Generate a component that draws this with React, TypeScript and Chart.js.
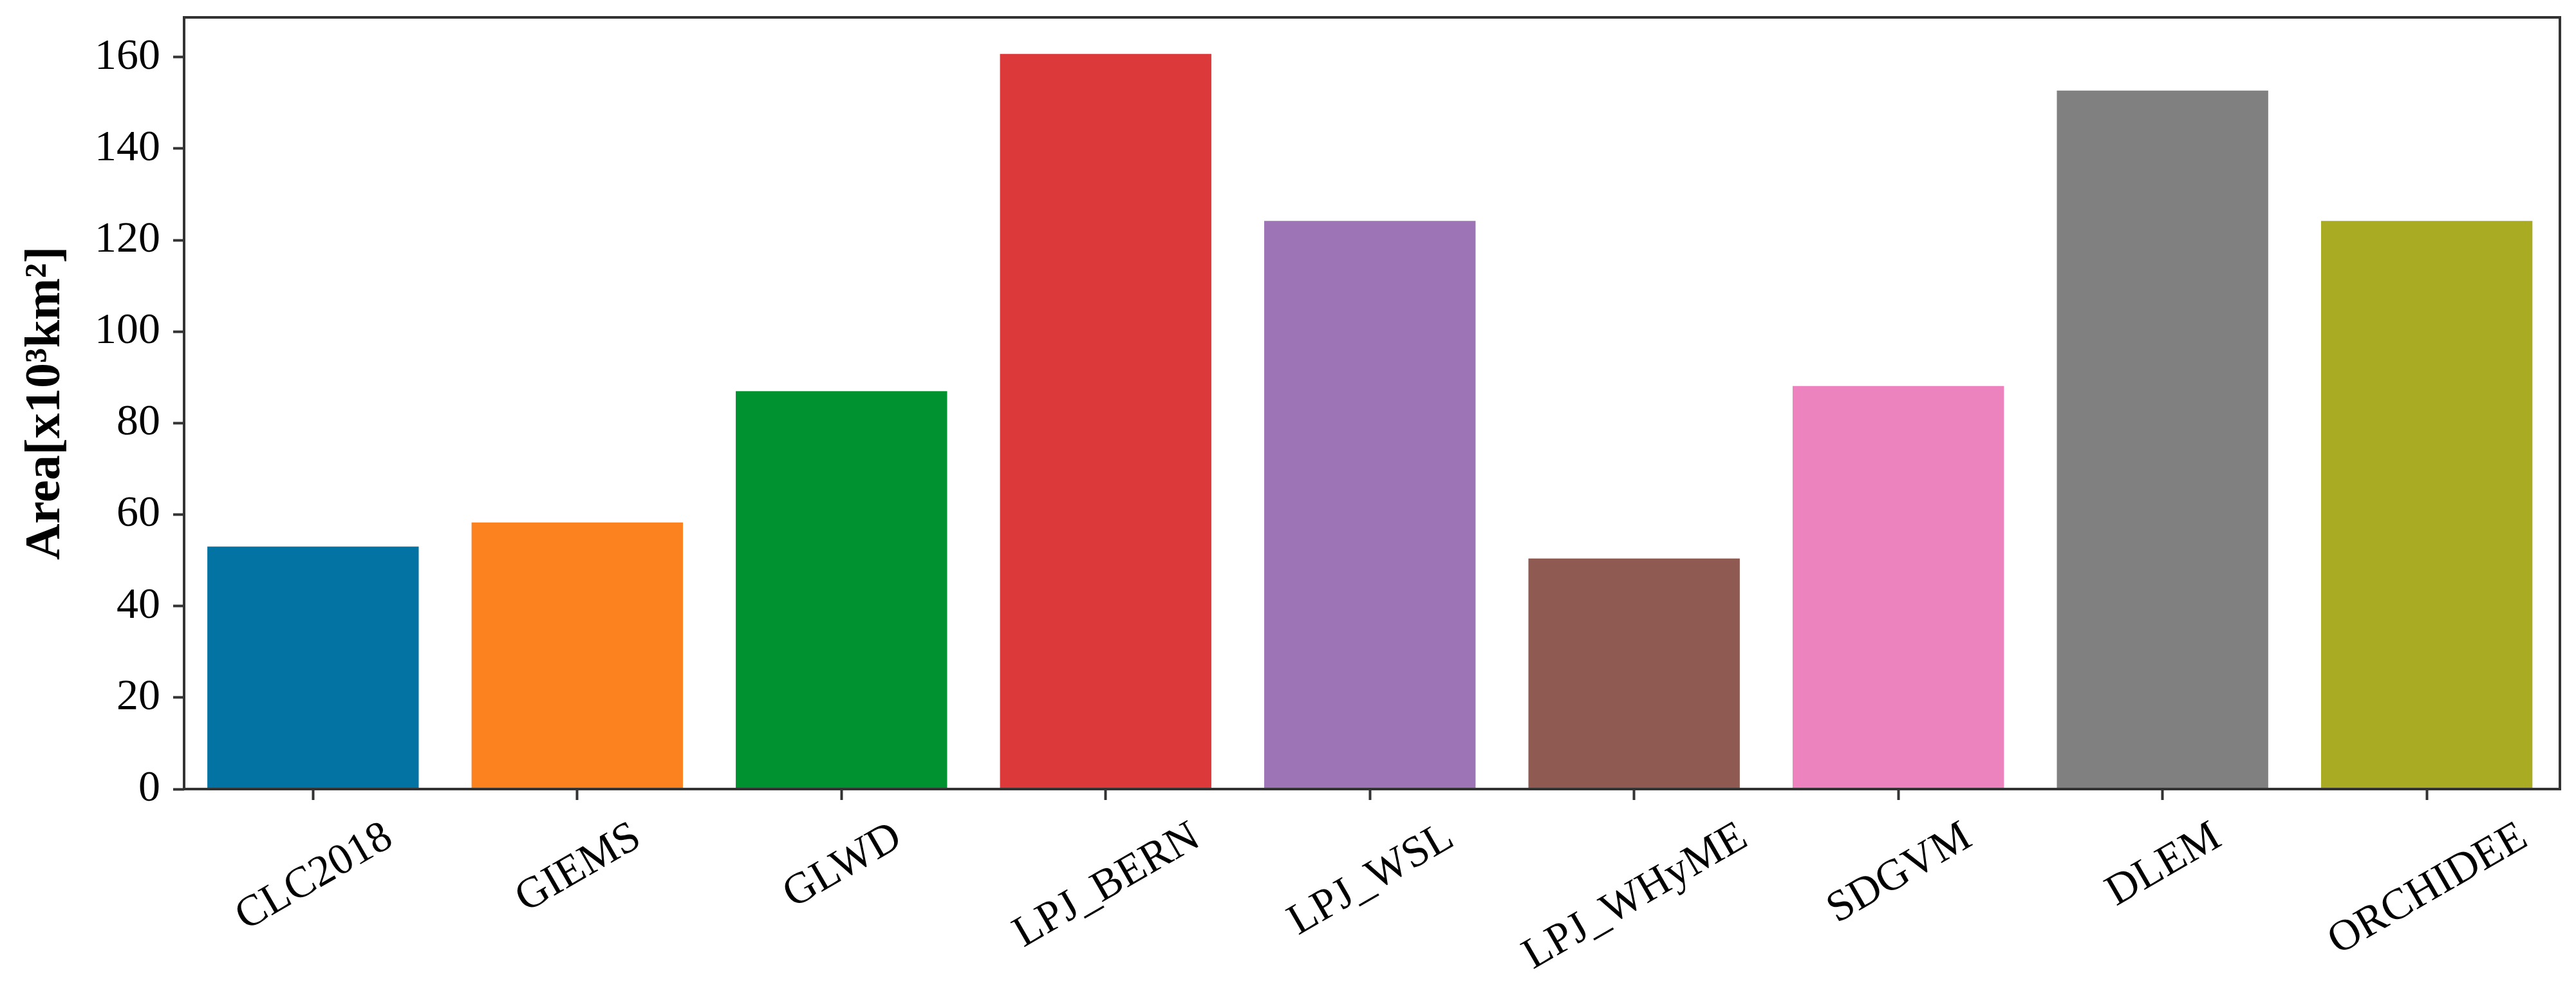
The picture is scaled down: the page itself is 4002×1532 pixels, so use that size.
import React, { useEffect, useRef } from 'react';
import { Chart, registerables } from 'chart.js';

Chart.register(...registerables);

const categories = ['CLC2018', 'GIEMS', 'GLWD', 'LPJ_BERN', 'LPJ_WSL', 'LPJ_WHyME', 'SDGVM', 'DLEM', 'ORCHIDEE'];
const areaValues = [53.0, 58.3, 87.0, 160.7, 124.2, 50.4, 88.1, 152.7, 124.2];
const barColors = ['#0273A3', '#FC8220', '#009130', '#DC3A3A', '#9D74B5', '#8E5A52', '#EC82BE', '#808080', '#A9AC23'];
const yTickValues = [0, 20, 40, 60, 80, 100, 120, 140, 160];
const yTitle = 'Area[x10³km²]';

const W = 4002;
const H = 1532;
const FONT = "'Liberation Serif', 'Times New Roman', serif";
const TICK_SIZE = 68;
const FRAME = '#333333';

const framePlugin = {
  id: 'frameAndLabels',
  afterDraw(chart: any) {
    const { ctx, chartArea: a } = chart;
    ctx.save();
    ctx.strokeStyle = FRAME;
    ctx.lineWidth = 4;
    ctx.strokeRect(a.left, a.top, a.right - a.left, a.bottom - a.top);

    const xs = chart.scales.x;
    ctx.font = `${TICK_SIZE}px ${FONT}`;
    ctx.fillStyle = '#000';
    ctx.textAlign = 'center';
    ctx.textBaseline = 'alphabetic';
    const ang = (30 * Math.PI) / 180;
    const capH = 0.66 * TICK_SIZE;
    categories.forEach((lab, i) => {
      const x = xs.getPixelForValue(i);
      const w = ctx.measureText(lab).width;
      const bboxH = w * Math.sin(ang) + capH * Math.cos(ang);
      const cy = a.bottom + 47 + bboxH / 2;
      ctx.save();
      ctx.translate(x, cy);
      ctx.rotate(-ang);
      ctx.fillText(lab, 0, capH / 2);
      ctx.restore();
    });
    ctx.restore();
  },
};

export default function App() {
  const ref = useRef<HTMLCanvasElement | null>(null);

  useEffect(() => {
    if (!ref.current) return;
    const chart = new Chart(ref.current, {
      type: 'bar',
      data: {
        datasets: [
          {
            data: areaValues.map((v, i) => ({ x: i, y: v })),
            backgroundColor: barColors,
            borderWidth: 0,
            categoryPercentage: 0.8,
            barPercentage: 1.0,
          },
        ],
      },
      options: {
        animation: false,
        responsive: false,
        devicePixelRatio: 1,
        layout: { padding: { top: 27, right: 25, left: 0, bottom: 0 } },
        plugins: {
          legend: { display: false },
          tooltip: { enabled: false },
        },
        scales: {
          x: {
            type: 'linear',
            offset: false,
            min: -0.488,
            max: 8.504,
            afterBuildTicks: (s: any) => {
              s.ticks = categories.map((_, i) => ({ value: i }));
            },
            ticks: { display: false },
            grid: {
              display: true,
              offset: false,
              drawOnChartArea: false,
              drawTicks: true,
              tickLength: 17,
              tickWidth: 4,
              tickColor: FRAME,
            },
            border: { display: false },
            afterFit: (s: any) => {
              s.height = H - 1226;
              s.paddingLeft = 0;
              s.paddingRight = 0;
            },
          },
          y: {
            type: 'linear',
            min: 0,
            max: 168.7,
            afterBuildTicks: (s: any) => {
              s.ticks = yTickValues.map((v) => ({ value: v }));
            },
            ticks: {
              font: { family: FONT, size: TICK_SIZE },
              color: '#000',
              padding: 20,
            },
            grid: {
              display: true,
              drawOnChartArea: false,
              drawTicks: true,
              tickLength: 17,
              tickWidth: 4,
              tickColor: FRAME,
            },
            border: { display: false },
            title: {
              display: true,
              text: yTitle,
              color: '#000',
              font: { family: FONT, size: 78, weight: 'bold' },
              padding: { top: 25, bottom: 0 },
            },
            afterFit: (s: any) => {
              s.width = 286;
              s.paddingTop = 0;
              s.paddingBottom = 0;
            },
          },
        },
      },
      plugins: [framePlugin],
    } as any);
    return () => chart.destroy();
  }, []);

  return (
    <div style={{ position: 'absolute', left: 0, top: 0, width: W, height: H, background: '#fff' }}>
      <canvas ref={ref} width={W} height={H} style={{ display: 'block' }} />
    </div>
  );
}
